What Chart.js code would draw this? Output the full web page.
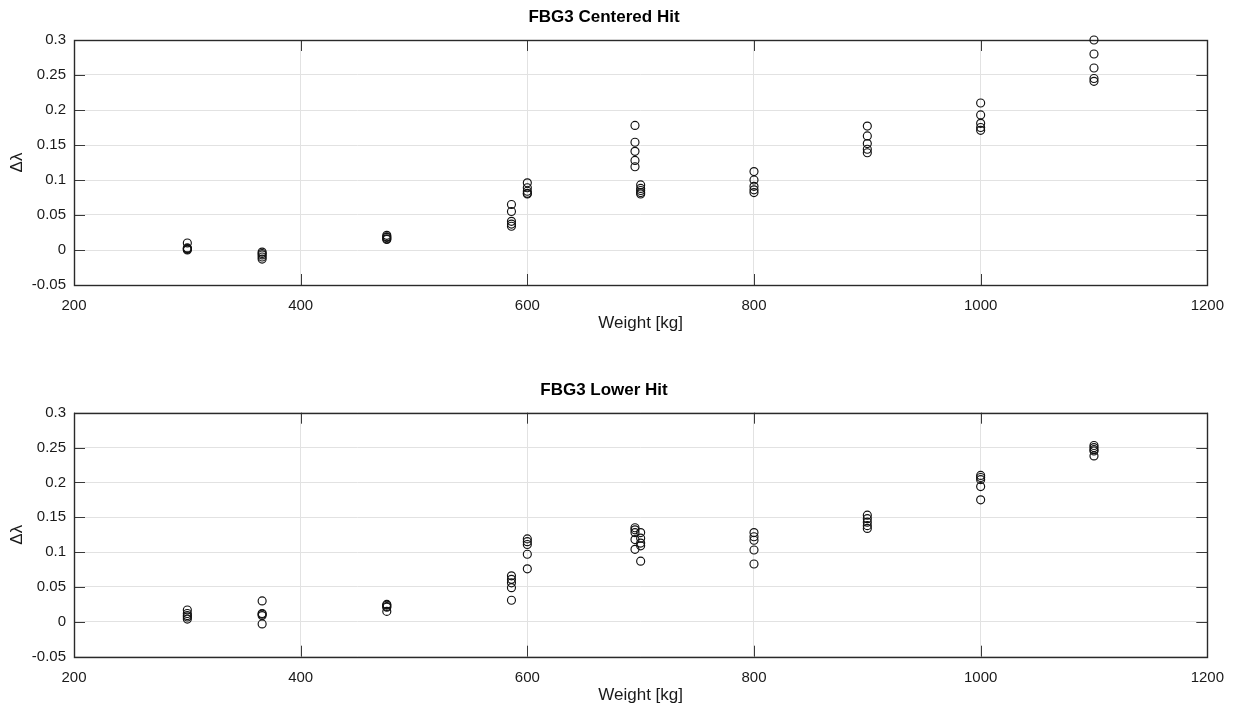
<!DOCTYPE html>
<html>
<head>
<meta charset="utf-8">
<script src="https://cdn.jsdelivr.net/npm/chart.js@4/dist/chart.umd.min.js"></script>
<style>
  html, body { margin: 0; padding: 0; background: #fff; width: 1236px; height: 711px; overflow: hidden; }
  .panel { position: absolute; left: 0; width: 1236px; }
  #p1 { top: 0; height: 355px; }
  #p2 { top: 355px; height: 356px; }
</style>
</head>
<body>
<div class="panel" id="p1"><canvas id="c1"></canvas></div>
<div class="panel" id="p2"><canvas id="c2"></canvas></div>
<script>
// Load steps [kg]; each step has five repeated readings
const weights = [300, 366, 476, 586, 600, 695, 700, 800, 900, 1000, 1100];

// Wavelength shift Δλ for the centered hit, one row per load step
const centeredHit = [
  [0.010, 0.003, 0.002, 0.001, 0.000],
  [-0.003, -0.005, -0.007, -0.010, -0.013],
  [0.021, 0.019, 0.018, 0.016, 0.015],
  [0.065, 0.055, 0.041, 0.037, 0.034],
  [0.096, 0.089, 0.084, 0.081, 0.080],
  [0.178, 0.154, 0.141, 0.128, 0.119],
  [0.093, 0.088, 0.085, 0.082, 0.080],
  [0.112, 0.100, 0.091, 0.086, 0.082],
  [0.177, 0.163, 0.152, 0.144, 0.139],
  [0.210, 0.193, 0.181, 0.175, 0.171],
  [0.300, 0.280, 0.260, 0.245, 0.241]
];

// Wavelength shift Δλ for the lower hit, one row per load step
const lowerHit = [
  [0.017, 0.012, 0.009, 0.007, 0.004],
  [0.030, 0.012, 0.011, 0.009, -0.003],
  [0.025, 0.024, 0.022, 0.021, 0.015],
  [0.066, 0.061, 0.056, 0.049, 0.031],
  [0.119, 0.115, 0.111, 0.097, 0.076],
  [0.135, 0.132, 0.128, 0.118, 0.104],
  [0.128, 0.120, 0.113, 0.109, 0.087],
  [0.128, 0.122, 0.117, 0.103, 0.083],
  [0.153, 0.148, 0.143, 0.138, 0.134],
  [0.210, 0.207, 0.204, 0.194, 0.175],
  [0.253, 0.250, 0.247, 0.245, 0.238]
];

const xTicks = [200, 400, 600, 800, 1000, 1200];
const xTickLabels = ['200', '400', '600', '800', '1000', '1200'];
const yTicks = [-0.05, 0, 0.05, 0.1, 0.15, 0.2, 0.25, 0.3];
const yTickLabels = ['-0.05', '0', '0.05', '0.1', '0.15', '0.2', '0.25', '0.3'];

const FONT = '"Liberation Sans", Arial, Helvetica, sans-serif';
Chart.defaults.font.family = FONT;
Chart.defaults.color = '#1a1a1a';

function toPoints(rows) {
  const pts = [];
  rows.forEach((row, i) => row.forEach(v => pts.push({ x: weights[i], y: v })));
  return pts;
}

// Full axes box plus inward tick marks on all four sides
const axesBox = {
  id: 'axesBox',
  beforeDatasetsDraw(chart) {
    const { ctx, chartArea: a, scales: { x, y } } = chart;
    const L = 11;
    ctx.save();
    ctx.strokeStyle = '#3a3a3a';
    ctx.lineWidth = 1;
    ctx.beginPath();
    x.ticks.forEach(t => {
      const px = Math.round(x.getPixelForValue(t.value)) + 0.5;
      ctx.moveTo(px, a.bottom); ctx.lineTo(px, a.bottom - L);
      ctx.moveTo(px, a.top); ctx.lineTo(px, a.top + L);
    });
    y.ticks.forEach(t => {
      const py = Math.round(y.getPixelForValue(t.value)) + 0.5;
      ctx.moveTo(a.left, py); ctx.lineTo(a.left + L, py);
      ctx.moveTo(a.right, py); ctx.lineTo(a.right - L, py);
    });
    ctx.stroke();
    ctx.lineWidth = 1.4;
    ctx.strokeStyle = '#2a2a2a';
    ctx.strokeRect(Math.round(a.left) + 0.5, Math.round(a.top) + 0.5,
                   Math.round(a.right - a.left), Math.round(a.bottom - a.top));
    ctx.restore();
  }
};

function makeChart(canvasId, titleText, rows, padTop, padBottom) {
  return new Chart(document.getElementById(canvasId), {
    type: 'scatter',
    data: {
      datasets: [{
        data: toPoints(rows),
        pointStyle: 'circle',
        pointRadius: 4,
        pointBorderWidth: 1.15,
        borderColor: '#111',
        backgroundColor: 'rgba(0,0,0,0)',
        clip: false
      }]
    },
    options: {
      responsive: true,
      maintainAspectRatio: false,
      animation: false,
      events: [],
      layout: { padding: { left: 0, right: 28, top: padTop, bottom: padBottom } },
      plugins: {
        legend: { display: false },
        tooltip: { enabled: false },
        title: {
          display: true,
          text: titleText,
          color: '#000',
          font: { size: 17, weight: 'bold', family: FONT },
          padding: { top: 7.3, bottom: 12.3 }
        }
      },
      scales: {
        x: {
          type: 'linear',
          min: 200, max: 1200,
          afterBuildTicks: s => { s.ticks = xTicks.map(v => ({ value: v })); },
          afterFit: s => { s.height = 50; },
          grid: { color: '#e2e2e2', lineWidth: 1, drawTicks: false },
          border: { display: false },
          ticks: {
            padding: 12,
            maxRotation: 0,
            autoSkip: false,
            color: '#1a1a1a',
            font: { size: 15 },
            callback: (v, i) => xTickLabels[i]
          },
          title: {
            display: true,
            text: 'Weight [kg]',
            color: '#1a1a1a',
            font: { size: 17, family: FONT },
            padding: { top: 0, bottom: 1.5 }
          }
        },
        y: {
          type: 'linear',
          min: -0.05, max: 0.3,
          afterBuildTicks: s => { s.ticks = yTicks.map(v => ({ value: v })); },
          afterFit: s => { s.width = 74; },
          grid: { color: '#e2e2e2', lineWidth: 1, drawTicks: false },
          border: { display: false },
          ticks: {
            padding: 8,
            autoSkip: false,
            color: '#1a1a1a',
            font: { size: 15 },
            callback: (v, i) => yTickLabels[i]
          },
          title: {
            display: true,
            text: 'Δλ',
            color: '#1a1a1a',
            font: { size: 17, family: FONT },
            padding: { top: 7.3, bottom: 0 }
          }
        }
      }
    },
    plugins: [axesBox]
  });
}

makeChart('c1', 'FBG3 Centered Hit', centeredHit, 0, 20);
makeChart('c2', 'FBG3 Lower Hit', lowerHit, 17.7, 4.3);
</script>
</body>
</html>
